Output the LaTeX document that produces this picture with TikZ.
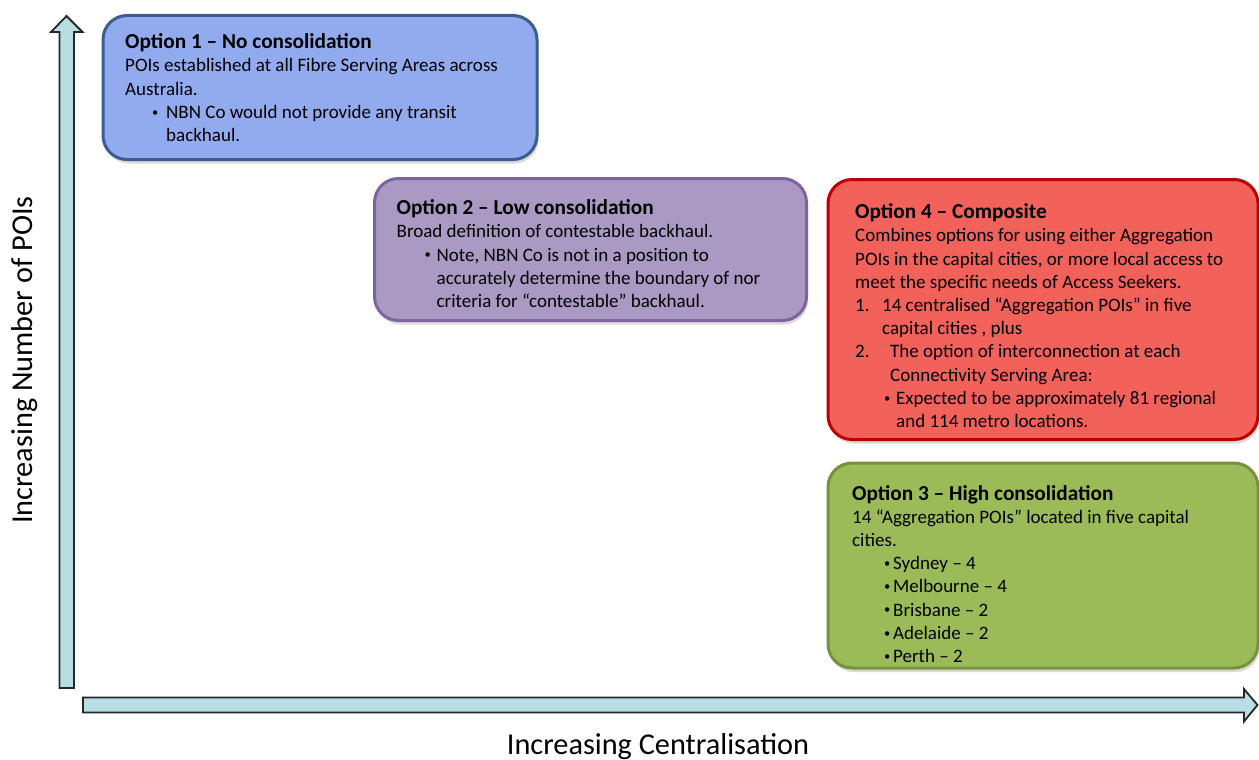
\documentclass[tikz,border=0pt]{standalone}
\usepackage{fontspec}
\setmainfont{Carlito}
\usetikzlibrary{positioning,shadows}
\definecolor{optOneFill}{HTML}{92AAEE}
\definecolor{optOneLine}{HTML}{3B5E8E}
\definecolor{optTwoFill}{HTML}{A999C3}
\definecolor{optTwoLine}{HTML}{7F63A1}
\definecolor{optThreeFill}{HTML}{9BBB59}
\definecolor{optThreeLine}{HTML}{76923C}
\definecolor{optFourFill}{HTML}{F2615A}
\definecolor{optFourLine}{HTML}{C00000}
\definecolor{axisFill}{HTML}{B7DEE2}
\newcommand{\optfont}{\fontsize{19}{23.2}\selectfont}
\newcommand{\opttitle}[1]{{\fontsize{21.3}{23.2}\selectfont\bfseries #1}}
\newcommand{\optbul}[3]{\hspace*{#1}\makebox[#2][l]{\raisebox{2.2pt}{\fontsize{12.5}{12}\selectfont\textbullet}}#3}

\begin{document}
\begin{tikzpicture}[x=1pt,y=-1pt,
  optbox/.style={rounded corners=24pt,line width=3pt,anchor=north west,inner sep=0pt,outer sep=0pt,
    drop shadow={shadow xshift=1.5pt,shadow yshift=-4pt,opacity=.3}},
  opttext/.style={align=left,inner sep=0pt,font=\optfont,anchor=north west},
  axisarrow/.style={draw=black!85,line width=1.8pt,fill=axisFill,line join=miter},
  axislabel/.style={font=\fontsize{30.3}{34}\selectfont,anchor=base}]
\useasboundingbox (0,0) rectangle (1259,760);
% axes
\draw[axisarrow] (59.5,688) -- (59.5,32) -- (51,32) -- (66.5,16) -- (82.5,32) -- (74,32) -- (74,688) -- cycle;
\draw[axisarrow] (83,697.5) -- (1244,697.5) -- (1244,689) -- (1257.5,705) -- (1244,721.5) -- (1244,712.5) -- (83,712.5) -- cycle;
\node[axislabel,rotate=90] (ylab) at (32,360) {Increasing Number of POIs};
\node[axislabel] (xlab) at (658,754) {Increasing Centralisation};

% option 1
\node[optbox,draw=optOneLine,fill=optOneFill,minimum width=434pt,minimum height=144pt] (opt1) at (103,15.5) {};
\node[opttext,below right=18pt and 22pt of opt1.north west] (opt1txt) {\opttitle{Option 1 – No consolidation}\\
POIs established at all Fibre Serving Areas across\\
Australia.\\
\optbul{27pt}{14pt}{NBN Co would not provide any transit}\\
\hspace*{41pt}backhaul.};

% option 2
\node[optbox,draw=optTwoLine,fill=optTwoFill,minimum width=432pt,minimum height=142pt] (opt2) at (374.5,178.5) {};
\node[opttext,below right=21pt and 22pt of opt2.north west] (opt2txt) {\opttitle{Option 2 – Low consolidation}\\
Broad definition of contestable backhaul.\\
\optbul{28pt}{12pt}{Note, NBN Co is not in a position to}\\
\hspace*{40pt}accurately determine the boundary of nor\\
\hspace*{40pt}criteria for “contestable” backhaul.};

% option 4
\node[optbox,draw=optFourLine,fill=optFourFill,minimum width=430pt,minimum height=260pt] (opt4) at (828,179.5) {};
\node[opttext,below right=24pt and 27pt of opt4.north west] (opt4txt) {\opttitle{Option 4 – Composite}\\
Combines options for using either Aggregation\\
POIs in the capital cities, or more local access to\\
meet the specific needs of Access Seekers.\\
\makebox[27pt][l]{1.}14 centralised “Aggregation POIs” in five\\
\hspace*{27pt}capital cities , plus\\
\makebox[35pt][l]{2.}The option of interconnection at each\\
\hspace*{35pt}Connectivity Serving Area:\\
\optbul{29pt}{12pt}{Expected to be approximately 81 regional}\\
\hspace*{41pt}and 114 metro locations.};

% option 3
\node[optbox,draw=optThreeLine,fill=optThreeFill,minimum width=430pt,minimum height=205pt] (opt3) at (828,463) {};
\node[opttext,below right=22pt and 24pt of opt3.north west] (opt3txt) {\opttitle{Option 3 – High consolidation}\\
14 “Aggregation POIs” located in five capital\\
cities.\\
\optbul{32pt}{9pt}{Sydney – 4}\\
\optbul{32pt}{9pt}{Melbourne – 4}\\
\optbul{32pt}{9pt}{Brisbane – 2}\\
\optbul{32pt}{9pt}{Adelaide – 2}\\
\optbul{32pt}{9pt}{Perth – 2}};
\end{tikzpicture}
\end{document}
